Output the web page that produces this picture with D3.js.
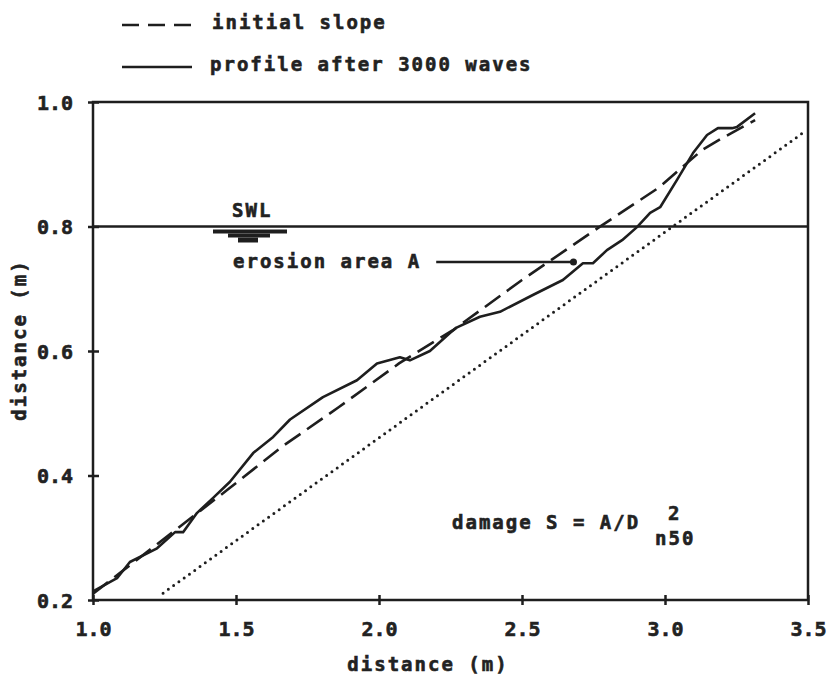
<!DOCTYPE html>
<html lang="en">
<head>
<meta charset="utf-8">
<title>Erosion profile after 3000 waves</title>
<script src="https://cdn.jsdelivr.net/npm/d3@7"></script>
<style>
    body { margin: 0; background: #fff; }
    svg { display: block; }
    /* plotter-like lettering */
    .lbl {
        font-family: "DejaVu Sans Mono", monospace;
        font-weight: bold;
        font-size: 19px;
        letter-spacing: 2px;
        fill: #222;
        stroke: #222;
        stroke-width: 0.6px;
    }
    .tickLbl {
        font-family: "DejaVu Sans Mono", monospace;
        font-weight: bold;
        font-size: 20px;
        fill: #222;
        stroke: #222;
        stroke-width: 0.6px;
    }
    .frame { stroke: #1e1e1e; stroke-width: 2.5px; fill: none; }
</style>
</head>
<body>
<script>
    // data
    var xTicks = [1.0, 1.5, 2.0, 2.5, 3.0, 3.5];
    var yTicks = [0.2, 0.4, 0.6, 0.8, 1.0];

    // dashed: initial slope
    var initialX = [1.0, 1.47, 1.66, 1.86, 2.07, 2.26, 2.50, 2.77, 2.98, 3.09, 3.13, 3.20, 3.315];
    var initialY = [0.21, 0.377, 0.446, 0.51, 0.58, 0.634, 0.714, 0.799, 0.863, 0.907, 0.923, 0.942, 0.971];

    // solid: profile after 3000 waves
    var profileX = [1.0, 1.084, 1.129, 1.224, 1.287, 1.315, 1.364, 1.42, 1.479, 1.56, 1.63, 1.689,
        1.804, 1.923, 1.993, 2.073, 2.108, 2.178, 2.248, 2.273, 2.353, 2.423, 2.538, 2.608, 2.643,
        2.713, 2.748, 2.797, 2.85, 2.902, 2.948, 2.983, 3.042, 3.098, 3.147, 3.185, 3.234, 3.252, 3.315];
    var profileY = [0.214, 0.235, 0.261, 0.283, 0.309, 0.309, 0.34, 0.364, 0.39, 0.436, 0.462, 0.49,
        0.526, 0.553, 0.58, 0.59, 0.585, 0.60, 0.629, 0.638, 0.655, 0.663, 0.69, 0.706, 0.714,
        0.741, 0.741, 0.762, 0.778, 0.799, 0.822, 0.831, 0.875, 0.918, 0.947, 0.958, 0.958, 0.96, 0.982];

    // dotted reference line
    var dottedX = [1.245, 3.49];
    var dottedY = [0.211, 0.953];

    var swlLevel = 0.8;
    var erosionArrowX = [2.2, 2.68];
    var erosionArrowY = 0.743;

    var legendItems = ["initial slope", "profile after 3000 waves"];

    var width = 834, height = 680;
    var margin = {top: 102, right: 26, bottom: 80, left: 93};

    var svg = d3.select("body").append("svg")
        .attr("width", width)
        .attr("height", height);

    var x = d3.scaleLinear().domain([1.0, 3.5]).range([margin.left, width - margin.right]);
    var y = d3.scaleLinear().domain([0.2, 1.0]).range([height - margin.bottom, margin.top]);

    var ink = "#1e1e1e";

    // frame
    svg.append("rect")
        .attr("class", "frame")
        .attr("x", x(1.0)).attr("y", y(1.0))
        .attr("width", x(3.5) - x(1.0))
        .attr("height", y(0.2) - y(1.0));

    // x axis
    var xAxis = svg.append("g")
        .attr("transform", "translate(0," + y(0.2) + ")")
        .call(d3.axisBottom(x).tickValues(xTicks).tickFormat(d3.format(".1f")).tickSize(0));
    xAxis.select(".domain").remove();
    xAxis.selectAll(".tick line")
        .attr("y1", -5).attr("y2", 5)
        .attr("stroke", ink).attr("stroke-width", 2.5);
    xAxis.selectAll(".tick text")
        .attr("class", "tickLbl")
        .attr("y", 36).attr("dy", 0)
        .attr("font-size", null).attr("font-family", null);

    // y axis
    var yAxis = svg.append("g")
        .attr("transform", "translate(" + x(1.0) + ",0)")
        .call(d3.axisLeft(y).tickValues(yTicks).tickFormat(d3.format(".1f")).tickSize(0));
    yAxis.select(".domain").remove();
    yAxis.selectAll(".tick line")
        .attr("x1", -5).attr("x2", 6)
        .attr("stroke", ink).attr("stroke-width", 2.5);
    yAxis.selectAll(".tick text")
        .attr("class", "tickLbl")
        .attr("x", -20).attr("dy", "0.36em")
        .attr("font-size", null).attr("font-family", null);

    // axis titles
    svg.append("text")
        .attr("class", "lbl")
        .attr("x", 428).attr("y", 671)
        .attr("text-anchor", "middle")
        .text("distance (m)");
    svg.append("text")
        .attr("class", "lbl")
        .attr("transform", "translate(26,340) rotate(-90)")
        .attr("text-anchor", "middle")
        .text("distance (m)");

    // SWL
    svg.append("line")
        .attr("x1", x(1.0)).attr("x2", x(3.5))
        .attr("y1", y(swlLevel)).attr("y2", y(swlLevel))
        .attr("stroke", ink).attr("stroke-width", 2.5);
    var swlBars = [[213, 287, 4], [228, 270, 4], [238, 258, 5]];
    svg.selectAll(".swlbar").data(swlBars).enter().append("rect")
        .attr("x", function(d) { return d[0]; })
        .attr("width", function(d) { return d[1] - d[0]; })
        .attr("y", function(d, i) { return y(swlLevel) + 3 + i * 4; })
        .attr("height", function(d) { return d[2]; })
        .attr("fill", ink);
    svg.append("text")
        .attr("class", "lbl")
        .attr("x", 232).attr("y", 217)
        .text("SWL");

    // lines
    var line = d3.line()
        .x(function(d) { return x(d[0]); })
        .y(function(d) { return y(d[1]); });

    svg.append("path")
        .datum(dottedX.map(function(v, i) { return [v, dottedY[i]]; }))
        .attr("d", line)
        .attr("fill", "none").attr("stroke", ink)
        .attr("stroke-width", 3).attr("stroke-linecap", "round")
        .attr("stroke-dasharray", "0 6.5");

    svg.append("path")
        .datum(initialX.map(function(v, i) { return [v, initialY[i]]; }))
        .attr("d", line)
        .attr("fill", "none").attr("stroke", ink)
        .attr("stroke-width", 2.6)
        .attr("stroke-dasharray", "19 8");

    svg.append("path")
        .datum(profileX.map(function(v, i) { return [v, profileY[i]]; }))
        .attr("d", line)
        .attr("fill", "none").attr("stroke", ink)
        .attr("stroke-width", 2.6).attr("stroke-linejoin", "round");

    // erosion area annotation
    svg.append("text")
        .attr("class", "lbl")
        .attr("x", 233).attr("y", 268)
        .text("erosion area A");
    svg.append("line")
        .attr("x1", x(erosionArrowX[0])).attr("x2", x(erosionArrowX[1]))
        .attr("y1", y(erosionArrowY)).attr("y2", y(erosionArrowY))
        .attr("stroke", ink).attr("stroke-width", 2.5);
    svg.append("circle")
        .attr("cx", x(erosionArrowX[1])).attr("cy", y(erosionArrowY))
        .attr("r", 3.5).attr("fill", ink);

    // damage formula
    svg.append("text")
        .attr("class", "lbl")
        .attr("x", 452).attr("y", 529)
        .text("damage S = A/D");
    svg.append("text")
        .attr("class", "lbl")
        .attr("x", 668).attr("y", 520)
        .text("2");
    svg.append("text")
        .attr("class", "lbl")
        .attr("x", 655).attr("y", 545)
        .text("n50");

    // legend
    var legend = svg.append("g");
    legendItems.forEach(function(name, i) {
        var ly = 25 + i * 42;
        legend.append("line")
            .attr("x1", 122).attr("x2", 192)
            .attr("y1", ly).attr("y2", ly)
            .attr("stroke", ink).attr("stroke-width", 2.6)
            .attr("stroke-dasharray", i === 0 ? "17 9" : null);
        legend.append("text")
            .attr("class", "lbl")
            .attr("x", i === 0 ? 212 : 210).attr("y", ly + 4)
            .text(name);
    });
</script>
</body>
</html>
